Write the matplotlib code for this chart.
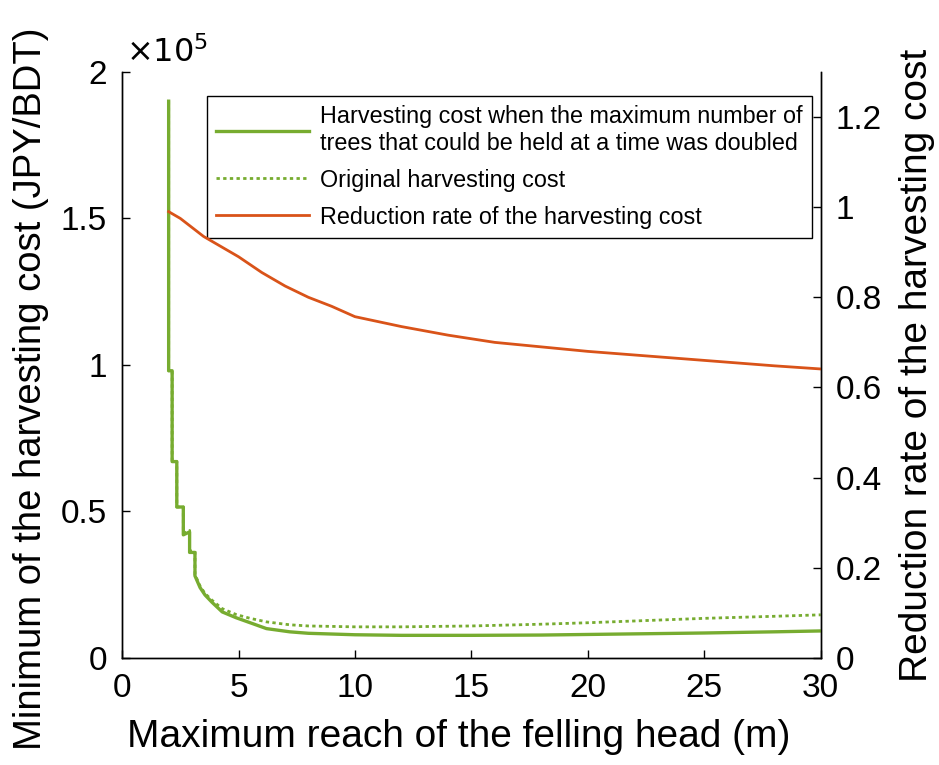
import numpy as np
import matplotlib
matplotlib.use("Agg")
import matplotlib.pyplot as plt

plt.rcParams['font.family'] = ['Liberation Sans', 'DejaVu Sans']

# harvesting cost when the max number of held trees was doubled (JPY/BDT)
reach_doubled = [2.0, 2.0, 2.15, 2.15, 2.35, 2.35, 2.63, 2.63, 2.9, 2.9, 3.13, 3.13,
                 3.35, 3.56, 3.86, 4.3, 4.9, 5.5, 6.2, 7.2, 8.0, 10.0, 12.0, 15.0,
                 18.0, 20.0, 22.0, 25.0, 28.0, 30.0]
cost_doubled = [190000, 98000, 98000, 67000, 67000, 51500, 51500, 42000, 43000, 36000,
                36000, 28000, 24000, 21500, 19000, 15700, 13700, 12000, 10000, 8900,
                8400, 7900, 7700, 7700, 7800, 8000, 8200, 8500, 8900, 9200]

# original harvesting cost (JPY/BDT)
reach_original = [2.0, 2.0, 2.15, 2.15, 2.35, 2.35, 2.63, 2.63, 2.9, 2.9, 3.13, 3.13,
                  3.35, 3.56, 3.86, 4.3, 4.9, 5.5, 6.2, 7.2, 8.0, 10.0, 12.0, 15.0,
                  18.0, 20.0, 22.0, 25.0, 28.0, 30.0]
cost_original = [190000, 98000, 98000, 67000, 67000, 51500, 51500, 42500, 43500, 36500,
                 36500, 28500, 24500, 22000, 19700, 16800, 14800, 13500, 12300, 11300,
                 10900, 10600, 10600, 10900, 11500, 12000, 12600, 13500, 14200, 14700]

# reduction rate of the harvesting cost
reach_rate = [2.0, 2.5, 3.0, 3.5, 4.0, 5.0, 6.0, 7.0, 8.0, 9.0, 10.0, 12.0, 14.0,
              16.0, 18.0, 20.0, 22.0, 25.0, 28.0, 30.0]
rate = [0.99, 0.975, 0.955, 0.935, 0.92, 0.89, 0.855, 0.825, 0.80, 0.78, 0.757, 0.735,
        0.716, 0.70, 0.69, 0.68, 0.672, 0.66, 0.648, 0.641]

x_ticks = [0, 5, 10, 15, 20, 25, 30]
left_ticks = [0, 50000, 100000, 150000, 200000]
left_labels = ['0', '0.5', '1', '1.5', '2']
right_ticks = [0, 0.2, 0.4, 0.6, 0.8, 1.0, 1.2]
right_labels = ['0', '0.2', '0.4', '0.6', '0.8', '1', '1.2']

green = '#77AC30'
orange = '#D95319'

fig = plt.figure(figsize=(9.39, 7.65), dpi=100)
ax = fig.add_axes([0.130, 0.140, 0.744, 0.766])
ax2 = ax.twinx()

l1, = ax.plot(reach_doubled, cost_doubled, color=green, lw=2.4, zorder=3)
l2, = ax.plot(reach_original, cost_original, color=green, lw=2.0, ls=(0, (1.2, 1.2)), zorder=2)
l3, = ax2.plot(reach_rate, rate, color=orange, lw=2.0)

ax.set_xlim(0, 30)
ax.set_ylim(0, 200000)
ax2.set_ylim(0, 1.3)

ax.set_xticks(x_ticks)
ax.set_yticks(left_ticks)
ax.set_yticklabels(left_labels)
ax2.set_yticks(right_ticks)
ax2.set_yticklabels(right_labels)

for a in (ax, ax2):
    a.spines['top'].set_visible(False)
    a.tick_params(direction='in', length=6, width=1, labelsize=24, pad=11)
    for s in a.spines.values():
        s.set_linewidth(1.0)
ax.text(0.005, 1.005, r'$\times 10^5$', transform=ax.transAxes, fontsize=23,
        ha='left', va='bottom')

ax.set_xlabel('Maximum reach of the felling head (m)', fontsize=28)
ax.xaxis.set_label_coords(0.482, -0.105)
ax.set_ylabel('Minimum of the harvesting cost (JPY/BDT)', fontsize=27.5)
ax.yaxis.set_label_coords(-0.105, 0.46)
ax2.set_ylabel('Reduction rate of the harvesting cost', fontsize=28, labelpad=12)

leg = ax.legend([l1, l2, l3],
                ['Harvesting cost when the maximum number of\ntrees that could be held at a time was doubled',
                 'Original harvesting cost',
                 'Reduction rate of the harvesting cost'],
                loc='upper left', bbox_to_anchor=(0.220, 0.875), bbox_transform=fig.transFigure,
                fontsize=16.8, handlelength=4.0, fancybox=False, framealpha=1,
                edgecolor='black', borderpad=0.4, labelspacing=0.6, handletextpad=0.45,
                borderaxespad=0)
leg.get_frame().set_linewidth(1.0)
leg.set_zorder(5)

fig.savefig('out.png', dpi=100)
